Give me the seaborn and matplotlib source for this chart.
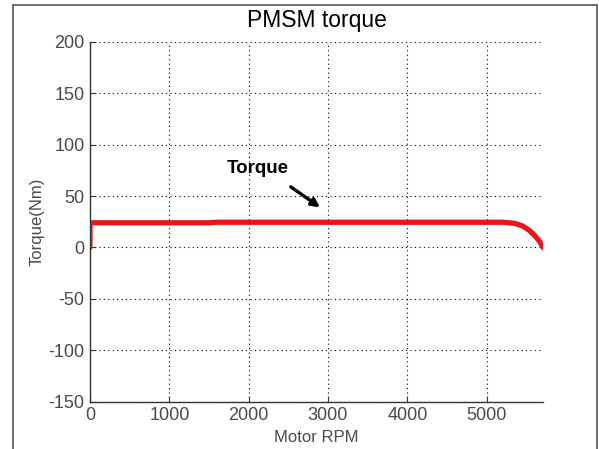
import matplotlib
matplotlib.use("Agg")
import matplotlib.pyplot as plt
import seaborn as sns
import pandas as pd
from matplotlib.patches import Rectangle

rpm = [0, 0, 500, 1000, 1500, 1600, 2500, 3500, 4500, 5200, 5350, 5450, 5530, 5600, 5650, 5690, 5710]
torque = [0, 24.0, 24.0, 24.0, 24.0, 24.5, 24.5, 24.5, 24.5, 24.5, 23.5, 21.0, 17.0, 12.0, 7.5, 3.0, 0.0]
x_ticks = [0, 1000, 2000, 3000, 4000, 5000]
y_ticks = [-150, -100, -50, 0, 50, 100, 150, 200]

sns.set_style("white")
plt.rcParams['font.family'] = ['Liberation Sans', 'DejaVu Sans']
plt.rcParams['axes.unicode_minus'] = False

df = pd.DataFrame({"Motor RPM": rpm, "Torque(Nm)": torque})

fig = plt.figure(figsize=(5.99, 4.49), dpi=100)
fig.patches.append(Rectangle((13/599, -0.05), (597-13)/599, 1 - 5/449 + 0.05,
                             transform=fig.transFigure, fill=False,
                             edgecolor="#555555", linewidth=1.2))
ax = fig.add_axes([90/599, 1 - 401.5/449, (543-90)/599, (401.5-42)/449])

sns.lineplot(data=df, x="Motor RPM", y="Torque(Nm)", ax=ax, color="#e8161b",
             linewidth=3.8, sort=False, estimator=None)

ax.set_xlim(0, 5710)
ax.set_ylim(-150, 200)
ax.set_xticks(x_ticks)
ax.set_yticks(y_ticks)
ax.grid(True, linestyle=(0, (1, 3)), color="black", linewidth=0.8)
for s in ["top", "right"]:
    ax.spines[s].set_visible(False)
for s in ["left", "bottom"]:
    ax.spines[s].set_color("#333333")
    ax.spines[s].set_linewidth(1.0)
ax.tick_params(direction="in", length=4, labelsize=13, colors="#333333",
               labelcolor="#4a4a4a", left=True, bottom=True, pad=4)
ax.set_xlabel("Motor RPM", fontsize=12, color="#4a4a4a", labelpad=4)
ax.set_ylabel("Torque(Nm)", fontsize=12, color="#4a4a4a", labelpad=3)
ax.set_title("PMSM torque", fontsize=16.5, color="black", pad=11)

ax.text(1725, 77, "Torque", fontsize=13.5, fontweight="bold", color="black",
        ha="left", va="center")
ax.annotate("", xy=(2900, 39), xytext=(2530, 59),
            arrowprops=dict(arrowstyle="-|>", color="black", lw=2.4,
                            shrinkA=0, shrinkB=0, mutation_scale=12))

fig.savefig("out.png", dpi=100)
